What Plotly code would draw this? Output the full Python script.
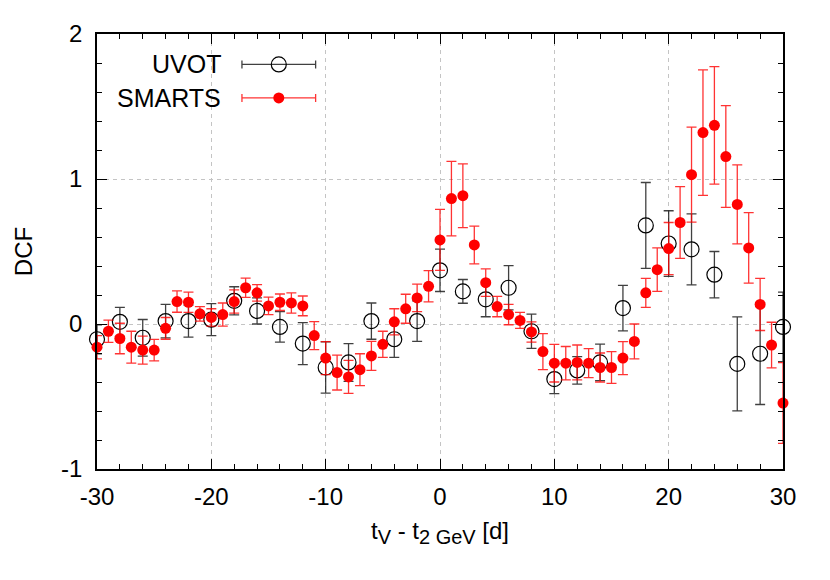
import plotly.graph_objects as go

# ---- data ----
smarts_lag = list(range(-30, 31))
smarts_dcf = [-0.16, -0.05, -0.10, -0.16, -0.18, -0.18, -0.03, 0.155, 0.15, 0.07,
              0.045, 0.065, 0.155, 0.25, 0.215, 0.125, 0.15, 0.145, 0.125, -0.08,
              -0.235, -0.335, -0.365, -0.315, -0.22, -0.14, 0.015, 0.105, 0.18, 0.26,
              0.58, 0.865, 0.885, 0.545, 0.285, 0.12, 0.065, 0.025, -0.055, -0.19,
              -0.27, -0.27, -0.265, -0.27, -0.30, -0.30, -0.235, -0.12, 0.215, 0.375,
              0.52, 0.70, 1.03, 1.32, 1.37, 1.155, 0.825, 0.525, 0.135, -0.145,
              -0.545]
smarts_err = [0.08, 0.077, 0.105, 0.11, 0.097, 0.074, 0.075, 0.074, 0.07, 0.05,
              0.06, 0.08, 0.08, 0.066, 0.057, 0.06, 0.057, 0.07, 0.068, 0.097,
              0.114, 0.12, 0.114, 0.11, 0.10, 0.09, 0.09, 0.10, 0.095, 0.108,
              0.21, 0.257, 0.22, 0.13, 0.095, 0.07, 0.07, 0.055, 0.07, 0.124,
              0.13, 0.115, 0.12, 0.10, 0.10, 0.11, 0.114, 0.12, 0.10, 0.15,
              0.18, 0.247, 0.328, 0.433, 0.405, 0.351, 0.272, 0.243, 0.18, 0.157,
              0.278]

uvot_lag = list(range(-30, 31, 2))
uvot_dcf = [-0.105, 0.015, -0.095, 0.02, 0.02, 0.03, 0.16, 0.09, -0.02, -0.135,
            -0.30, -0.265, 0.02, -0.105, 0.02, 0.37, 0.225, 0.17, 0.25, -0.05,
            -0.38, -0.32, -0.265, 0.11, 0.68, 0.555, 0.515, 0.34, -0.275, -0.205,
            -0.02]
uvot_err = [0.10, 0.10, 0.126, 0.116, 0.11, 0.11, 0.097, 0.09, 0.105, 0.145,
            0.177, 0.13, 0.125, 0.125, 0.14, 0.146, 0.082, 0.12, 0.153, 0.118,
            0.10, 0.095, 0.126, 0.157, 0.296, 0.226, 0.245, 0.16, 0.324, 0.35,
            0.24]

series_names = ["UVOT", "SMARTS"]
x_ticks = [-30, -20, -10, 0, 10, 20, 30]
x_ticktext = ["-30", "-20", "-10", "0", "10", "20", "30"]
y_ticks = [-1, 0, 1, 2]
y_ticktext = ["-1", "0", "1", "2"]

FONT = "Liberation Sans, Arial, sans-serif"
RED = "#ff0000"
RED_BAR = "rgba(255,0,0,0.8)"
BLK_BAR = "rgba(0,0,0,0.75)"

fig = go.Figure()

fig.add_trace(go.Scatter(
    x=uvot_lag, y=uvot_dcf, mode="markers", name=series_names[0],
    marker=dict(symbol="circle-open", size=15, color="black", line=dict(width=1.2, color="black")),
    error_y=dict(type="data", array=uvot_err, visible=True, color=BLK_BAR, thickness=1.3, width=5),
    cliponaxis=False, showlegend=False))

fig.add_trace(go.Scatter(
    x=smarts_lag, y=smarts_dcf, mode="markers", name=series_names[1],
    marker=dict(symbol="circle", size=11, color=RED),
    error_y=dict(type="data", array=smarts_err, visible=True, color=RED_BAR, thickness=1.3, width=5),
    cliponaxis=False, showlegend=False))

# ---- manual legend (keys on an overlay axis in plot-area fractions) ----
key_x = 0.265
key_half = 0.0537
key_y = [0.930, 0.853]
fig.add_trace(go.Scatter(
    x=[key_x], y=[key_y[0]], xaxis="x2", yaxis="y2", mode="markers",
    marker=dict(symbol="circle-open", size=15, color="black", line=dict(width=1.2, color="black")),
    error_x=dict(type="constant", value=key_half, color=BLK_BAR, thickness=1.3, width=4),
    showlegend=False, hoverinfo="skip"))
fig.add_trace(go.Scatter(
    x=[key_x], y=[key_y[1]], xaxis="x2", yaxis="y2", mode="markers",
    marker=dict(symbol="circle", size=11, color=RED),
    error_x=dict(type="constant", value=key_half, color=RED_BAR, thickness=1.3, width=4),
    showlegend=False, hoverinfo="skip"))
for name, yy in zip(series_names, key_y):
    fig.add_annotation(x=0.183, y=yy, xref="x2", yref="y2", text=name, showarrow=False,
                       xanchor="right", yanchor="middle", font=dict(family=FONT, size=25, color="black"))

axis_common = dict(
    showline=True, linecolor="black", linewidth=1.6, mirror="ticks",
    ticks="inside", ticklen=10, tickwidth=1.3, tickcolor="black",
    showgrid=True, gridcolor="#c4c4c4", griddash="4px,4px", gridwidth=1,
    zeroline=False, tickfont=dict(family=FONT, size=24, color="black"),
)

x_title = ("t<sub><span style='font-size:20px'>V</span></sub> - "
           "t<sub><span style='font-size:20px'>2 GeV</span></sub> [d]")

fig.update_layout(
    width=830, height=580,
    margin=dict(l=89, r=55, t=22, b=119),
    paper_bgcolor="white", plot_bgcolor="white",
    font=dict(family=FONT, color="black"),
    xaxis=dict(range=[-30, 30], tickvals=x_ticks, ticktext=x_ticktext, ticklabelstandoff=5,
               minor=dict(dtick=2, ticklen=5, ticks="inside", tickcolor="black", tickwidth=1.3, showgrid=False),
               title=dict(text=x_title, font=dict(family=FONT, size=24), standoff=14),
               **axis_common),
    yaxis=dict(range=[-1, 2], tickvals=y_ticks, ticktext=y_ticktext, ticklabelstandoff=8,
               minor=dict(dtick=0.2, ticklen=5, ticks="inside", tickcolor="black", tickwidth=1.3, showgrid=False),
               title=dict(text="DCF", font=dict(family=FONT, size=24), standoff=22),
               **axis_common),
    xaxis2=dict(overlaying="x", range=[0, 1], visible=False, fixedrange=True),
    yaxis2=dict(overlaying="y", range=[0, 1], visible=False, fixedrange=True),
)

fig.write_html("out.html")
